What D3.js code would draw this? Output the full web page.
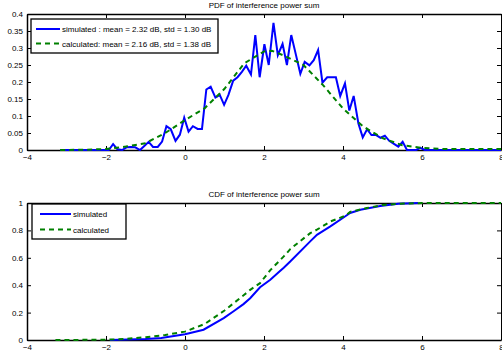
<!DOCTYPE html>
<html>
<head>
<meta charset="utf-8">
<script src="https://cdn.jsdelivr.net/npm/d3@7"></script>
<style>
  body { margin: 0; background: #fff; }
  svg { display: block; font-family: "Liberation Sans", Arial, sans-serif; }
  .axis text { font-size: 8px; fill: #000; }
  .axis path, .axis line { stroke: #000; }
</style>
</head>
<body>
<div id="chart"></div>
<script>
// simulated pdf (histogram of interference power sum, dB)
var pdfSimX = [-3.16, -2.04, -1.93, -1.82, -1.71, -1.59, -1.48, -1.37, -1.26, -1.14, -1.03, -0.92, -0.81, -0.69, -0.58, -0.47, -0.36, -0.24, -0.13, -0.02,
  0.09, 0.20, 0.32, 0.43, 0.54, 0.65, 0.77, 0.88, 0.99, 1.10, 1.22, 1.33, 1.44, 1.55, 1.67, 1.78, 1.89, 2.01, 2.12, 2.24,
  2.35, 2.47, 2.58, 2.69, 2.81, 2.92, 3.03, 3.15, 3.26, 3.37, 3.48, 3.60, 3.71, 3.82, 3.93, 4.05, 4.16, 4.27, 4.39, 4.50,
  4.61, 4.72, 4.84, 4.95, 5.06, 5.17, 5.29, 5.40, 5.51, 5.62, 5.73, 5.85, 5.96, 6.07, 8];
var pdfSim = [0, 0, 0, 0.017, 0.002, 0, 0.008, 0.009, 0.008, 0, 0.012, 0.024, 0.009, 0.009, 0.025, 0.07, 0.061, 0.027, 0.045, 0.095,
  0.054, 0.07, 0.062, 0.062, 0.178, 0.186, 0.154, 0.162, 0.133, 0.162, 0.204, 0.214, 0.23, 0.248, 0.222, 0.338, 0.214, 0.311, 0.25, 0.374,
  0.279, 0.312, 0.25, 0.338, 0.279, 0.224, 0.259, 0.249, 0.264, 0.294, 0.198, 0.214, 0.214, 0.214, 0.159, 0.196, 0.116, 0.159, 0.078, 0.037,
  0.061, 0.044, 0.044, 0.036, 0.042, 0.027, 0.018, 0.01, 0.024, 0, 0, 0, 0.006, 0, 0];

// calculated pdf
var pdfCalcX = [-3.16, -2.5, -2.0, -1.5, -1.0, -0.5, 0, 0.5, 1.0, 1.5, 2.0, 2.2, 2.5, 3.0, 3.5, 4.0, 4.5, 5.0, 5.5, 6.0, 6.5, 7, 8];
var pdfCalc = [0, 0.001, 0.003, 0.01, 0.02, 0.05, 0.088, 0.123, 0.18, 0.255, 0.29, 0.292, 0.278, 0.25, 0.19, 0.122, 0.07, 0.035, 0.014, 0.006, 0.003, 0.003, 0.003];

// simulated cdf
var cdfSimX = [-1.9, -1.0, -0.6, 0, 0.47, 0.98, 1.23, 1.48, 1.65, 1.9, 2.16, 2.37, 2.5, 2.67, 3.17, 3.34, 3.68, 4.06, 4.18, 4.44, 4.94, 5.4, 5.9];
var cdfSim = [0, 0.008, 0.015, 0.042, 0.075, 0.16, 0.21, 0.262, 0.305, 0.385, 0.44, 0.495, 0.528, 0.575, 0.72, 0.768, 0.83, 0.903, 0.927, 0.951, 0.978, 0.995, 1.0];

// calculated cdf
var cdfCalcX = [-3.28, -2, -1.5, -1, -0.5, 0, 0.5, 1.0, 1.5, 1.65, 1.9, 2.16, 2.5, 2.67, 3.17, 3.34, 3.68, 4.06, 4.18, 4.6, 5.0, 5.45, 6.0, 8];
var cdfCalc = [0, 0.002, 0.008, 0.02, 0.037, 0.061, 0.117, 0.215, 0.33, 0.366, 0.415, 0.51, 0.61, 0.665, 0.78, 0.805, 0.865, 0.907, 0.935, 0.963, 0.985, 0.995, 1.0, 1.0];

var xTicks = [-4, -2, 0, 2, 4, 6, 8];
var pdfTicks = [0, 0.05, 0.1, 0.15, 0.2, 0.25, 0.3, 0.35, 0.4];
var cdfTicks = [0, 0.2, 0.4, 0.6, 0.8, 1];

var pdfLegend = ["simulated : mean = 2.32 dB, std = 1.30 dB", "calculated: mean = 2.16 dB, std = 1.38 dB"];
var cdfLegend = ["simulated", "calculated"];

var W = 502, H = 358;
var svg = d3.select("#chart").append("svg")
  .attr("width", W)
  .attr("height", H);

function panel(opt) {
  var x = d3.scaleLinear().domain([-4, 8]).range([27, 501]);
  var y = d3.scaleLinear().domain(opt.yDomain).range([opt.bottom, opt.top]);
  var g = svg.append("g");

  // title
  g.append("text")
    .attr("x", (27 + 501) / 2)
    .attr("y", opt.top - 6)
    .attr("text-anchor", "middle")
    .style("font-size", "8px")
    .text(opt.title);

  // axes: ticks pointing inward on all four sides
  g.append("g").attr("class", "axis")
    .attr("transform", "translate(0," + opt.bottom + ")")
    .call(d3.axisBottom(x).tickValues(xTicks).tickSizeInner(-4).tickSizeOuter(0).tickPadding(4).tickFormat(d3.format("d")))
    .select(".domain").attr("stroke-width", 1.5);
  g.append("g").attr("class", "axis")
    .attr("transform", "translate(0," + opt.top + ")")
    .call(d3.axisTop(x).tickValues(xTicks).tickSizeInner(-4).tickSizeOuter(0).tickFormat(""))
    .select(".domain").attr("stroke-width", 1.5);
  g.append("g").attr("class", "axis")
    .attr("transform", "translate(27,0)")
    .call(d3.axisLeft(y).tickValues(opt.yTicks).tickSizeInner(-4).tickSizeOuter(0).tickPadding(4).tickFormat(d3.format("")))
    .select(".domain").attr("stroke-width", 1.5);
  g.append("g").attr("class", "axis")
    .attr("transform", "translate(501,0)")
    .call(d3.axisRight(y).tickValues(opt.yTicks).tickSizeInner(-4).tickSizeOuter(0).tickFormat(""));

  var line = d3.line()
    .x(function (d) { return x(d[0]); })
    .y(function (d) { return y(d[1]); });

  g.append("path")
    .datum(d3.zip(opt.simX, opt.sim))
    .attr("fill", "none")
    .attr("stroke", "#0000ff")
    .attr("stroke-width", 2)
    .attr("d", line);

  g.append("path")
    .datum(d3.zip(opt.calcX, opt.calc))
    .attr("fill", "none")
    .attr("stroke", "#008000")
    .attr("stroke-width", 2)
    .attr("stroke-dasharray", "5,4")
    .attr("d", line);

  // legend
  var L = opt.legend;
  var lg = g.append("g");
  lg.append("rect")
    .attr("x", L.x).attr("y", L.y)
    .attr("width", L.w).attr("height", L.h)
    .attr("fill", "#fff")
    .attr("stroke", "#000")
    .attr("stroke-width", 1.3);
  var rows = [{ color: "#0000ff", dash: null }, { color: "#008000", dash: "5,4" }];
  rows.forEach(function (r, i) {
    var yy = L.y + L.row0 + i * L.step;
    lg.append("line")
      .attr("x1", L.lx1).attr("x2", L.lx2)
      .attr("y1", yy).attr("y2", yy)
      .attr("stroke", r.color)
      .attr("stroke-width", 2)
      .attr("stroke-dasharray", r.dash);
    lg.append("text")
      .attr("x", L.lx2 + 2)
      .attr("y", yy + 3)
      .style("font-size", "8px")
      .text(L.labels[i]);
  });
}

panel({
  title: "PDF of interference power sum",
  top: 14, bottom: 150,
  yDomain: [0, 0.4], yTicks: pdfTicks,
  simX: pdfSimX, sim: pdfSim, calcX: pdfCalcX, calc: pdfCalc,
  legend: { x: 31, y: 19, w: 187, h: 34, row0: 10, step: 14.5, lx1: 36, lx2: 60, labels: pdfLegend }
});

panel({
  title: "CDF of interference power sum",
  top: 203, bottom: 340,
  yDomain: [0, 1], yTicks: cdfTicks,
  simX: cdfSimX, sim: cdfSim, calcX: cdfCalcX, calc: cdfCalc,
  legend: { x: 32, y: 204, w: 94, h: 35, row0: 10, step: 15.5, lx1: 40, lx2: 71, labels: cdfLegend }
});
</script>
</body>
</html>
